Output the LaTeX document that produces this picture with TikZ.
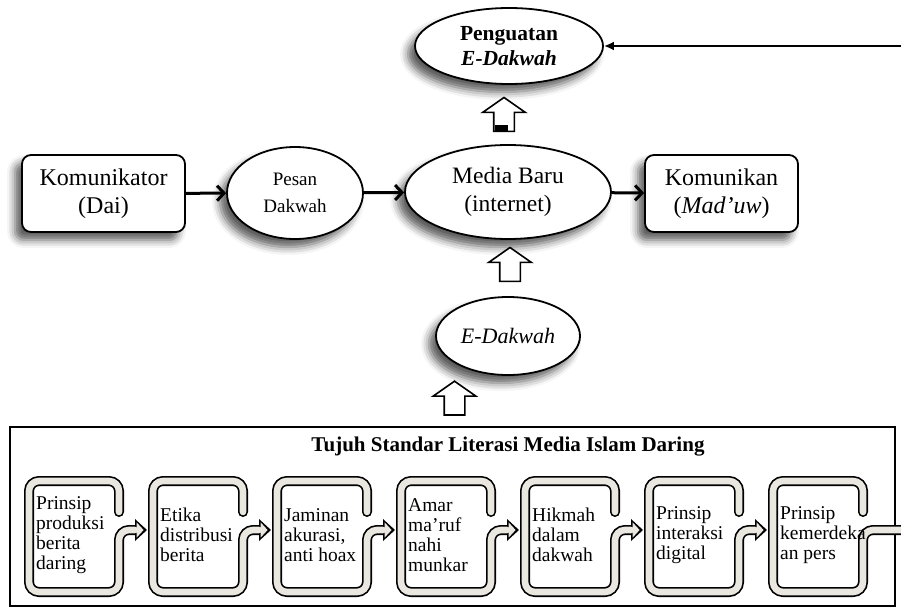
\documentclass[tikz,border=0pt]{standalone}
\usepackage{fontspec}
\setmainfont{Liberation Serif}
\usepackage{tikz}
\usetikzlibrary{calc,positioning,arrows.meta,shapes.geometric,shapes.arrows,shadows.blur}
\definecolor{bandfill}{HTML}{E9E7DF}

\begin{document}
\begin{tikzpicture}[x=1pt,y=-1pt,
  soft/.style={blur shadow={shadow xshift=-7pt,shadow yshift=-8pt,shadow blur radius=8pt,shadow opacity=65}},
  party/.style={draw,line width=1.8pt,rounded corners=9pt,fill=white,soft,inner sep=0pt,
                align=center,minimum height=77pt,font=\fontsize{24}{28}\selectfont},
  oval/.style={ellipse,draw,line width=1.8pt,fill=white,soft,inner sep=0pt,align=center},
  flow/.style={line width=3pt,-{Straight Barb[length=7pt,width=15pt]}},
  feed/.style={line width=2.8pt,-{Latex[length=10pt,width=9pt]}},
  hollow/.style={single arrow,draw,line width=1.6pt,fill=white,rotate=90,minimum size=0pt,
                 inner xsep=12.5pt,inner ysep=9.5pt,single arrow head extend=11pt,single arrow tip angle=110},
  frame/.style={draw,line width=2.4pt,inner sep=0pt,minimum width=885pt,minimum height=179pt},
  bandedge/.style={line width=10pt,draw=black,rounded corners=10pt,line cap=round},
  bandcore/.style={line width=6.6pt,draw=bandfill,rounded corners=10pt,line cap=round},
  steptext/.style={anchor=west,align=left,inner sep=0pt,font=\fontsize{19.5}{20}\selectfont}
]
  \useasboundingbox (0,0) rectangle (901,610);

  % top row
  \node[oval,minimum width=188pt,minimum height=76pt,font=\bfseries\fontsize{21.5}{25}\selectfont]
    (peng) at (509,46) {Penguatan\\\itshape E-Dakwah};
  \coordinate (src) at (901,46);
  \draw[feed] (src) -- (peng.east);

  % middle row
  \node[party,minimum width=163pt] (komtor) at (103.5,193.5) {Komunikator\\(Dai)};
  \node[oval,minimum width=136pt,minimum height=92pt,font=\fontsize{19}{27}\selectfont]
    (pesan) at (295,193) {Pesan\\Dakwah};
  \node[oval,minimum width=206pt,minimum height=94pt,font=\fontsize{23.5}{28}\selectfont]
    (media) at (508,192) {Media Baru\\(internet)};
  \node[party,minimum width=153pt] (komkan) at (721.5,193.5) {Komunikan\\(\textit{Mad’uw})};
  \draw[flow] (komtor) -- (pesan);
  \draw[flow] (pesan) -- (media);
  \draw[flow] (media) -- (komkan);

  \node[oval,minimum width=144pt,minimum height=78pt,font=\itshape\fontsize{22}{26}\selectfont]
    (edak) at (508,336) {E-Dakwah};

  % hollow arrows
  \node[hollow,anchor=tail] (a1) at ($(media.north)+(-4,-12)$) {};
  \fill ($(a1.tail)+(-9,0)$) rectangle ($(a1.tail)+(4,-7)$);
  \node[hollow,anchor=tail] (a2) at ($(edak.north)+(2,-14)$) {};

  % seven standards
  \node[frame] (std) at (452.5,516.5) {};
  \node[font=\bfseries\fontsize{21}{24}\selectfont] (title) at (508,447)
    {Tujuh Standar Literasi Media Islam Daring};
  \node[hollow,anchor=tail] (a3) at ($(std.north)+(2,-10)$) {};

  \foreach \i/\x/\e/\t in {1/25/110/{Prinsip\\produksi\\berita\\daring},
      2/149/110/{Etika\\distribusi\\berita},
      3/273/110/{Jaminan\\akurasi,\\anti hoax},
      4/397/110/{Amar\\ma'ruf\\nahi\\munkar},
      5/521/110/{Hikmah\\dalam\\dakwah},
      6/645/110/{Prinsip\\interaksi\\digital},
      7/769/150/{Prinsip\\kemerdeka\\an pers}}{
    \begin{scope}[xshift=\x pt]
      \draw[bandedge] (94,512) -- (94,481) -- (4,481) -- (4,592) -- (94,592) -- (94,530) -- (\e,530);
      \ifnum\i<7 \fill (110,519) -- (122,530) -- (110,541) -- cycle; \fi
      \draw[bandcore] (94,512) -- (94,481) -- (4,481) -- (4,592) -- (94,592) -- (94,530) -- (\e,530);
      \ifnum\i<7 \fill[bandfill] (111.6,522.4) -- (118.6,530) -- (111.6,537.6) -- cycle; \fi
      \node[steptext] (s\i) at (11,535) {\t};
    \end{scope}
  }
\end{tikzpicture}
\end{document}
